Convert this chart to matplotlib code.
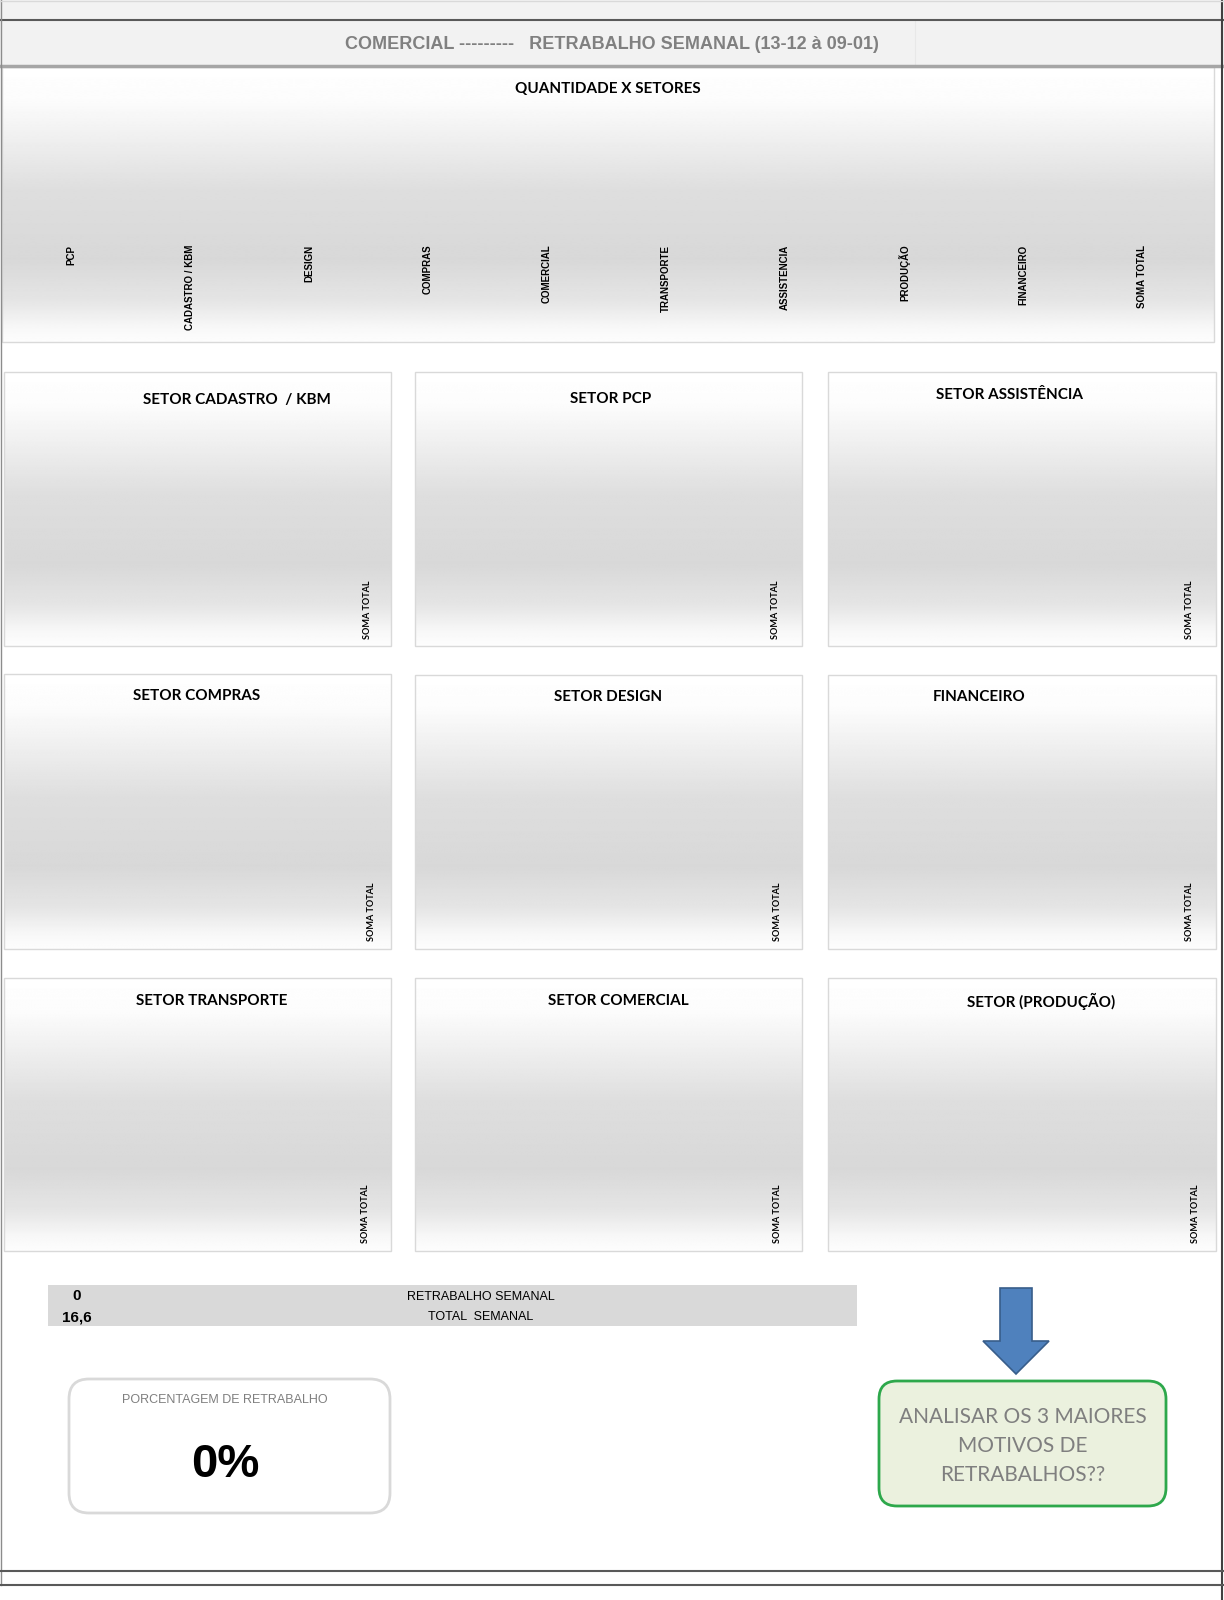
import numpy as np
import matplotlib
matplotlib.use("Agg")
import matplotlib.pyplot as plt
from matplotlib.patches import Rectangle, FancyBboxPatch, FancyArrow

# ---------------- data ----------------
titulo = "COMERCIAL ---------   RETRABALHO SEMANAL (13-12 à 09-01)"
titulo_geral = "QUANTIDADE X SETORES"
setores = ["PCP", "CADASTRO / KBM", "DESIGN", "COMPRAS", "COMERCIAL",
           "TRANSPORTE", "ASSISTENCIA", "PRODUÇÃO", "FINANCEIRO", "SOMA TOTAL"]
quantidades = [0, 0, 0, 0, 0, 0, 0, 0, 0, 0]

painel_titulos = ["SETOR CADASTRO  / KBM", "SETOR PCP", "SETOR ASSISTÊNCIA",
                  "SETOR COMPRAS", "SETOR DESIGN", "FINANCEIRO",
                  "SETOR TRANSPORTE", "SETOR COMERCIAL", "SETOR (PRODUÇÃO)"]
painel_categorias = ["SOMA TOTAL"]
painel_valores = [[0], [0], [0], [0], [0], [0], [0], [0], [0]]

retrabalho_semanal = 0
total_semanal = 16.6
rotulos_resumo = ["RETRABALHO SEMANAL", "TOTAL  SEMANAL"]
porcentagem_titulo = "PORCENTAGEM DE RETRABALHO"
mensagem = "ANALISAR OS 3 MAIORES\nMOTIVOS DE\nRETRABALHOS??"

# ---------------- layout ----------------
W, H = 1224, 1600
ARIAL = ["Liberation Sans", "DejaVu Sans"]
CALIBRI = ["Lato", "DejaVu Sans"]

fig = plt.figure(figsize=(W / 100, H / 100), dpi=100)
fig.patch.set_facecolor("white")
bg = fig.add_axes([0, 0, 1, 1])
bg.axis("off")


def px_axes(x0, y0, x1, y1):
    return fig.add_axes([x0 / W, 1 - y1 / H, (x1 - x0) / W, (y1 - y0) / H])


stops_t = [0.0, 0.12, 0.45, 0.70, 0.85, 0.95, 1.0]
stops_v = [255, 252, 222, 216, 229, 248, 253]


def gradient_box(x0, y0, x1, y1):
    t = np.linspace(0, 1, 300)
    v = np.interp(t, stops_t, stops_v) / 255.0
    img = np.repeat(v[:, None], 2, axis=1)
    bg.imshow(img, cmap="gray", vmin=0, vmax=1, extent=(x0, x1, y1, y0),
              aspect="auto", interpolation="bilinear", zorder=1)
    bg.add_patch(Rectangle((x0, y0), x1 - x0, y1 - y0, fill=False,
                           ec="#d9d9d9", lw=1, zorder=2))


# header
bg.add_patch(Rectangle((0, 0), W, 65, fc="#f2f2f2", ec="none", zorder=0))
bg.plot([0, W], [20, 20], color="#595959", lw=1.5, zorder=3)
bg.plot([0, W], [65.5, 65.5], color="#a6a6a6", lw=2.5, zorder=3)
bg.plot([915, 915], [20, 65], color="#e8e8e8", lw=0.8, zorder=2)
bg.text(612, 44.5, titulo, ha="center", va="center", fontsize=13,
        fontweight="bold", color="#808080", family=ARIAL, zorder=4)

# page border lines
bg.plot([1, 1], [0, 1585], color="#8c8c8c", lw=1, zorder=3)
bg.plot([1222, 1222], [0, 1600], color="#404040", lw=1.5, zorder=3)
bg.plot([0, W], [0.5, 0.5], color="#d9d9d9", lw=1, zorder=3)
bg.plot([0, W], [1571, 1571], color="#595959", lw=1.5, zorder=3)
bg.plot([0, W], [1585, 1585], color="#595959", lw=1.5, zorder=3)

# ---------------- top chart ----------------
gradient_box(2, 67, 1214, 342)
bg.text(608, 89, titulo_geral, ha="center", va="center", fontsize=11,
        fontweight="bold", color="black", family=CALIBRI, zorder=4)
ax = px_axes(11.5, 100, 1201.5, 242)
ax.patch.set_alpha(0)
ax.bar(np.arange(len(setores)), quantidades, width=0.6, color="#4f81bd")
ax.set_xlim(-0.5, len(setores) - 0.5)
ax.set_ylim(0, 1)
ax.set_xticks(np.arange(len(setores)))
ax.set_xticklabels(setores, rotation=90, fontsize=7, fontweight="bold",
                   family=ARIAL)
ax.tick_params(axis="x", length=0, pad=2)
ax.set_yticks([])
for s in ax.spines.values():
    s.set_visible(False)

# ---------------- panels ----------------
boxes = [(4, 372, 391, 646), (415, 372, 802, 646), (828, 372, 1216, 646),
         (4, 674, 391, 949), (415, 675, 802, 949), (828, 675, 1216, 949),
         (4, 978, 391, 1251), (415, 978, 802, 1251), (828, 978, 1216, 1251)]
title_pos = [(237, 400), (611, 399), (1010, 395),
             (197, 696), (608, 697), (979, 697),
             (212, 1001), (618, 1001), (1041, 1001)]
label_x = [367, 776, 1190, 372, 777, 1190, 366, 777, 1195]
label_top = [580, 580, 580, 882, 882, 882, 1184, 1184, 1184]

for i, (x0, y0, x1, y1) in enumerate(boxes):
    gradient_box(x0, y0, x1, y1)
    tx, ty = title_pos[i]
    bg.text(tx, ty, painel_titulos[i], ha="center", va="center", fontsize=11,
            fontweight="bold", color="black", family=CALIBRI, zorder=4)
    lx, lt = label_x[i], label_top[i]
    pa = px_axes(lx - 15, lt - 150, lx + 15, lt - 2)
    pa.patch.set_alpha(0)
    pa.bar(np.arange(len(painel_categorias)), painel_valores[i], width=0.6,
           color="#4f81bd")
    pa.set_xlim(-0.5, 0.5)
    pa.set_ylim(0, 1)
    pa.set_xticks(np.arange(len(painel_categorias)))
    pa.set_xticklabels(painel_categorias, rotation=90, fontsize=6.5,
                       fontweight="bold", family=CALIBRI)
    pa.tick_params(axis="x", length=0, pad=2)
    pa.set_yticks([])
    for s in pa.spines.values():
        s.set_visible(False)

# ---------------- summary band ----------------
bg.add_patch(Rectangle((48, 1285), 809, 41, fc="#d9d9d9", ec="none", zorder=2))
valores_resumo = [str(retrabalho_semanal),
                  f"{total_semanal:.1f}".replace(".", ",")]
for j, (val, lab) in enumerate(zip(valores_resumo, rotulos_resumo)):
    y = 1296.5 + j * 21
    bg.text(77, y, val, ha="center", va="center", fontsize=11,
            fontweight="bold", color="black", family=ARIAL, zorder=4)
    bg.text(481, y, lab, ha="center", va="center", fontsize=9,
            color="black", family=ARIAL, zorder=4)

# ---------------- percentage box ----------------
bg.add_patch(FancyBboxPatch((69, 1379), 321, 134,
                            boxstyle="round,pad=0,rounding_size=20",
                            fc="white", ec="#d9d9d9", lw=2, zorder=2))
bg.text(225, 1400, porcentagem_titulo, ha="center", va="center", fontsize=9,
        color="#7f7f7f", family=ARIAL, zorder=4)
pct = retrabalho_semanal / total_semanal * 100
bg.text(225, 1465, f"{pct:.0f}%", ha="center", va="center", fontsize=34,
        fontweight="bold", color="black", family=ARIAL, zorder=4)

# ---------------- arrow and message ----------------
bg.add_patch(FancyArrow(1016, 1288, 0, 86, width=32, head_width=66,
                        head_length=33, length_includes_head=True,
                        fc="#4f81bd", ec="#385d8a", lw=1.2, zorder=3))
bg.add_patch(FancyBboxPatch((879, 1381), 287, 125,
                            boxstyle="round,pad=0,rounding_size=18",
                            fc="#ebf1de", ec="#2da84b", lw=2, zorder=2))
bg.text(1023, 1446, mensagem, ha="center", va="center", fontsize=15,
        color="#7f7f7f", family=CALIBRI, linespacing=1.55,
        multialignment="center", zorder=4)

bg.set_xlim(0, W)
bg.set_ylim(H, 0)
fig.savefig("out.png", dpi=100, facecolor="white")
